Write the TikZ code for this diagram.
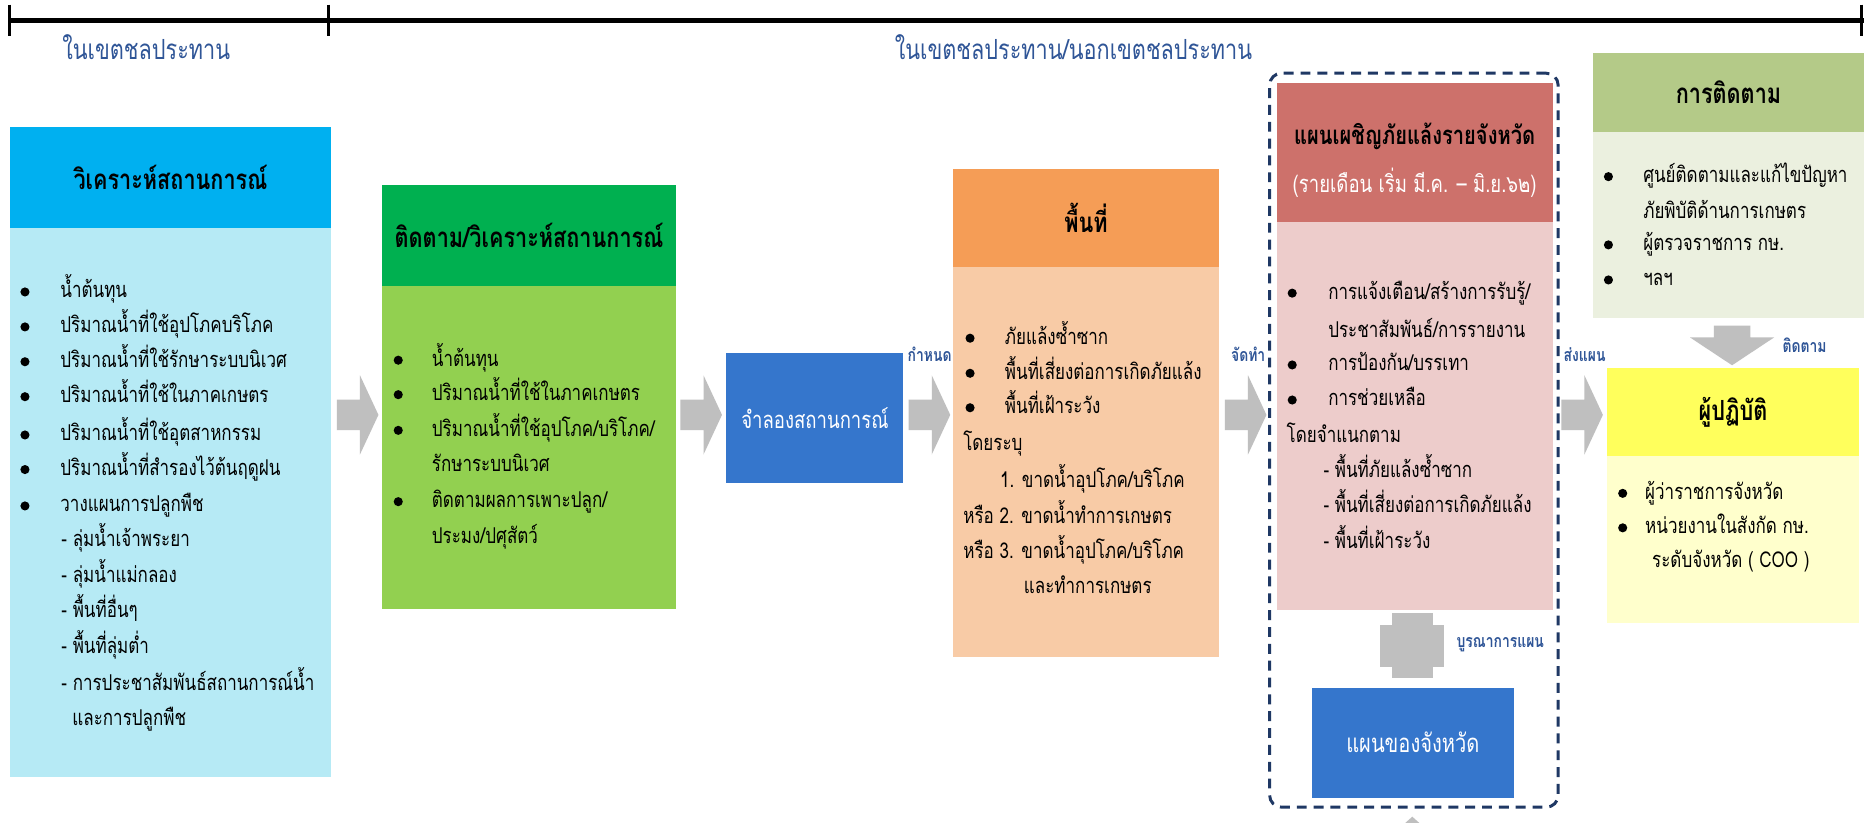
\documentclass[tikz,border=0pt]{standalone}
\usepackage{fontspec}
\setmainfont[Script=Thai,FakeStretch=0.78]{Loma}
\usepackage{tikz}
\usetikzlibrary{shapes.arrows}
\definecolor{cyanhead}{HTML}{00B0F0}
\definecolor{cyanbody}{HTML}{B6EAF5}
\definecolor{greenhead}{HTML}{00B050}
\definecolor{greenbody}{HTML}{92D050}
\definecolor{simblue}{HTML}{3576CC}
\definecolor{orangehead}{HTML}{F59D56}
\definecolor{orangebody}{HTML}{F8CBA6}
\definecolor{redhead}{HTML}{CD716B}
\definecolor{redbody}{HTML}{EDCCCB}
\definecolor{olivehead}{HTML}{B4CA88}
\definecolor{olivebody}{HTML}{EBF0DF}
\definecolor{yellowhead}{HTML}{FFFF5C}
\definecolor{yellowbody}{HTML}{FFFFCC}
\definecolor{arrowgray}{HTML}{BFBFBF}
\definecolor{tagblue}{HTML}{2F5597}
\definecolor{framenavy}{HTML}{1F3864}
\tikzset{boxsize/.style 2 args={minimum width=#1*0.6pt,minimum height=#2*0.6pt}}
\tikzstyle{panel}=[rectangle,inner sep=0pt]
\tikzstyle{head}=[panel,font=\fontsize{14}{17}\selectfont\bfseries]
\tikzstyle{line}=[anchor=base west,inner sep=0pt,font=\fontsize{11}{14}\selectfont]
\tikzstyle{dot}=[circle,fill=black,minimum size=4.6pt,inner sep=0pt]
\tikzstyle{flow}=[single arrow,fill=arrowgray,inner xsep=0pt,inner ysep=7.5pt,anchor=tail,minimum height=21pt,single arrow head extend=12.3pt,single arrow tip angle=130]
\tikzstyle{tag}=[inner sep=0pt,text=tagblue,font=\fontsize{9}{11}\selectfont\bfseries]
\tikzstyle{zone}=[inner sep=0pt,text=tagblue,font=\fontsize{14}{17}\selectfont]
\tikzstyle{scalebar}=[draw,line width=2.4pt]

\begin{document}
\begin{tikzpicture}[x=0.6pt,y=-0.6pt]
    \path[use as bounding box,clip] (0,0) rectangle (1568,691.5);
    \fill[white] (0,0) rectangle (1568,691.5);

    % Scale bar along the top
    \foreach \x/\name in {8/L,276/M,1566/R}{
        \coordinate (tick\name a) at (\x,4);
        \coordinate (tick\name b) at (\x,30);
        \draw[line width=1.5pt] (tick\name a) -- (tick\name b);
    }
    \coordinate (barL) at (8,17);
    \coordinate (barR) at (1568,17);
    \path[scalebar] (barL) -- (barR);
    \node[zone] (zoneIn) at (123,40) {ในเขตชลประทาน};
    \node[zone] (zoneAll) at (903,40) {ในเขตชลประทาน/นอกเขตชลประทาน};

    % First we draw the panels
    \node[panel,fill=cyanbody,boxsize={270}{462.3}] (sitBody) at (143.4,422.85) {};
    \node[head,fill=cyanhead,boxsize={270}{84.7}] (sitHead) at (143.4,149.35) {วิเคราะห์สถานการณ์};
    \node[panel,fill=greenbody,boxsize={248}{271.4}] (watchBody) at (445,376.3) {};
    \node[head,fill=greenhead,boxsize={248}{84.6}] (watchHead) at (445,198.3) {ติดตาม/วิเคราะห์สถานการณ์};
    \node[panel,fill=simblue,boxsize={149}{109},text=white,font=\fontsize{12}{14}\selectfont] (sim) at (685.5,351.5) {จำลองสถานการณ์};
    \node[panel,fill=orangebody,boxsize={223}{328.1}] (areaBody) at (913.5,388.55) {};
    \node[head,fill=orangehead,boxsize={223}{82.5}] (areaHead) at (913.5,183.25) {พื้นที่};
    \node[panel,draw=framenavy,line width=1.5pt,dash pattern=on 5pt off 3.5pt,rounded corners=6pt,boxsize={242.7}{617.4}] (planFrame) at (1189.35,370.3) {};
    \node[panel,fill=redbody,boxsize={232}{326.4}] (planBody) at (1190,349.8) {};
    \node[panel,fill=redhead,boxsize={232}{117}] (planHead) at (1190,128.1) {};
    \node[head,font=\fontsize{13}{16}\selectfont\bfseries] (planTitle) at (1190,115) {แผนเผชิญภัยแล้งรายจังหวัด};
    \node[inner sep=0pt,text=white,font=\fontsize{12}{14}\selectfont] (planNote) at (1190,154) {(รายเดือน เริ่ม มี.ค. – มิ.ย.๖๒)};
    \node[panel,fill=simblue,boxsize={170}{92.4},text=white,font=\fontsize{13}{15}\selectfont] (provPlan) at (1188.5,624.8) {แผนของจังหวัด};
    \node[panel,fill=olivebody,boxsize={228}{156.5}] (trackBody) at (1454,189.25) {};
    \node[head,fill=olivehead,boxsize={228}{66.7}] (trackHead) at (1454,77.65) {การติดตาม};
    \node[panel,fill=yellowbody,boxsize={212.5}{140}] (doerBody) at (1457.75,454) {};
    \node[head,fill=yellowhead,boxsize={212.5}{74.3}] (doerHead) at (1457.75,346.85) {ผู้ปฏิบัติ};

    % Then the lines of text in each panel
    \foreach \x/\y/\txt [count=\i] in {50.5/250.6/น้ำต้นทุน, 50.5/280/ปริมาณน้ำที่ใช้อุปโภคบริโภค,
        50.5/309.3/ปริมาณน้ำที่ใช้รักษาระบบนิเวศ, 50.5/338.7/ปริมาณน้ำที่ใช้ในภาคเกษตร,
        50.5/370.9/ปริมาณน้ำที่ใช้อุตสาหกรรม, 50.5/400/ปริมาณน้ำที่สำรองไว้ต้นฤดูฝน,
        50.5/430.6/วางแผนการปลูกพืช, 51.3/460/- ลุ่มน้ำเจ้าพระยา, 51.3/490/- ลุ่มน้ำแม่กลอง,
        51.3/519.6/- พื้นที่อื่นๆ, 51.3/550/- พื้นที่ลุ่มต่ำ, 51.3/581/- การประชาสัมพันธ์สถานการณ์น้ำ,
        60.6/610.6/และการปลูกพืช}
        \node[line] (sitLine\i) at (\x,\y) {\txt};
    \foreach \x/\y/\txt [count=\i] in {363/308/น้ำต้นทุน, 363/337/ปริมาณน้ำที่ใช้ในภาคเกษตร,
        363/367/{ปริมาณน้ำที่ใช้อุปโภค/บริโภค/}, 363/397/รักษาระบบนิเวศ,
        363/427/{ติดตามผลการเพาะปลูก/}, 363/457/{ประมง/ปศุสัตว์}}
        \node[line] (watchLine\i) at (\x,\y) {\txt};
    \foreach \x/\y/\txt [count=\i] in {845/289.5/ภัยแล้งซ้ำซาก, 845/319/พื้นที่เสี่ยงต่อการเกิดภัยแล้ง,
        845/348/พื้นที่เฝ้าระวัง, 810/379/โดยระบุ, 841/410/{1. ขาดน้ำอุปโภค/บริโภค},
        810/440/หรือ 2. ขาดน้ำทำการเกษตร, 810/470/{หรือ 3. ขาดน้ำอุปโภค/บริโภค}, 861/499.6/และทำการเกษตร}
        \node[line] (areaLine\i) at (\x,\y) {\txt};
    \foreach \x/\y/\txt [count=\i] in {1117/251.6/{การแจ้งเตือน/สร้างการรับรู้/}, 1117/284/{ประชาสัมพันธ์/การรายงาน},
        1117/312/{การป้องกัน/บรรเทา}, 1117/341.5/การช่วยเหลือ, 1082/372/โดยจำแนกตาม,
        1113/402/- พื้นที่ภัยแล้งซ้ำซาก, 1113/431/- พื้นที่เสี่ยงต่อการเกิดภัยแล้ง, 1113/461/- พื้นที่เฝ้าระวัง}
        \node[line] (planLine\i) at (\x,\y) {\txt};
    \foreach \x/\y/\txt [count=\i] in {1382/153.6/ศูนย์ติดตามและแก้ไขปัญหา, 1382/184/ภัยพิบัติด้านการเกษตร,
        1382/211/ผู้ตรวจราชการ กษ., 1382/240.5/ฯลฯ}
        \node[line] (trackLine\i) at (\x,\y) {\txt};
    \foreach \x/\y/\txt [count=\i] in {1383.6/420/ผู้ว่าราชการจังหวัด, 1383.6/449/หน่วยงานในสังกัด กษ.,
        1389.5/477.6/ระดับจังหวัด ( COO )}
        \node[line] (doerLine\i) at (\x,\y) {\txt};

    % Bullets
    \foreach \pos/\name in {{(21,245.6)/sitDot1}, {(21,275)/sitDot2}, {(21,304.3)/sitDot3}, {(21,333.7)/sitDot4},
        {(21,365.9)/sitDot5}, {(21,395)/sitDot6}, {(21,425.6)/sitDot7},
        {(335,303)/watchDot1}, {(335,332)/watchDot2}, {(335,362)/watchDot3}, {(335,422)/watchDot4},
        {(816,284.5)/areaDot1}, {(816,314)/areaDot2}, {(816,343)/areaDot3},
        {(1087,246.6)/planDot1}, {(1087,307)/planDot2}, {(1087,336.5)/planDot3},
        {(1353,148.6)/trackDot1}, {(1353,206)/trackDot2}, {(1353,235.5)/trackDot3},
        {(1365,415)/doerDot1}, {(1365,444)/doerDot2}}
        \node[dot] (\name) at \pos {};

    % Block arrows between the panels
    \foreach \x/\name in {283/flowA, 572/flowB, 764/flowC, 1030/flowD, 1313/flowE}
        \node[flow] (\name) at (\x,349) {};
    \node[flow,rotate=-90,inner ysep=9pt,minimum height=20pt,single arrow head extend=12pt,single arrow tip angle=113] (flowDown) at (1457,273.6) {};
    \node[panel,fill=arrowgray,boxsize={34}{54.8}] (mergeV) at (1188,543) {};
    \node[panel,fill=arrowgray,boxsize={54}{35.4}] (mergeH) at (1188,543.3) {};
    \fill[arrowgray] (1188,687) -- (1216,712) -- (1160,712) -- cycle;

    % Labels on the arrows
    \node[tag] (tagSet) at (782,298) {กำหนด};
    \node[tag] (tagMake) at (1050,298) {จัดทำ};
    \node[tag] (tagSend) at (1333,298.6) {ส่งแผน};
    \node[tag] (tagFollow) at (1518,290) {ติดตาม};
    \node[tag] (tagMerge) at (1262,542.6) {บูรณาการแผน};
\end{tikzpicture}
\end{document}
